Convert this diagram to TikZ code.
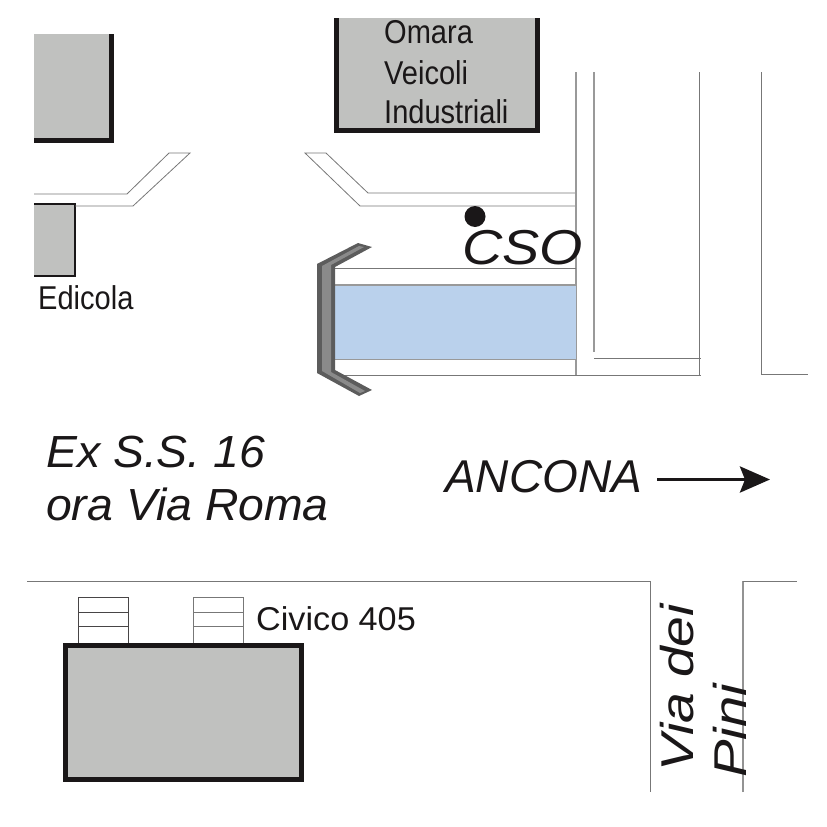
\documentclass[tikz,border=0pt]{standalone}
\usepackage{fontspec}
\usetikzlibrary{arrows.meta}
\setmainfont{Liberation Sans}
\definecolor{bldg}{HTML}{C0C1BF}
\definecolor{ink}{HTML}{1A1718}
\definecolor{roadline}{HTML}{777777}
\definecolor{water}{HTML}{BAD1EC}
\definecolor{wall}{HTML}{8A8A8A}
\definecolor{walledge}{HTML}{5C5C5C}
\tikzset{
  road/.style={draw=roadline,line width=1pt},
  heavy/.style={draw=ink,line width=5pt},
  blockfill/.style={fill=bldg},
  label/.style={inner sep=0pt,text=ink,anchor=base west},
  small/.style={label,font=\fontsize{33}{33}\selectfont,xscale=.88},
  big/.style={label,font=\fontsize{45}{45}\selectfont\itshape,xscale=1.03},
  side/.style={label,font=\fontsize{46}{46}\selectfont\itshape,rotate=90,xscale=1.2},
}
\begin{document}
\begin{tikzpicture}[x=1pt,y=-1pt]
\useasboundingbox (0,0) rectangle (827,827);
% top-left block
\fill[blockfill] (34,34) rectangle (112,141);
\draw[heavy,line cap=butt] (34,140.5) -- (111.5,140.5) -- (111.5,34);
% Omara building
\fill[blockfill] (336,18) rectangle (538,131);
\draw[heavy] (336,18) -- (336,130.5) -- (537.5,130.5) -- (537.5,18);
% Edicola
\fill[blockfill] (34,204) rectangle (75,276);
\draw[draw=ink,line width=2pt] (34,204) -- (74.5,204) -- (74.5,275.5) -- (34,275.5);
% streets
\draw[road,line width=.8pt] (34,194) -- (127,194) -- (169,153) -- (190,153) -- (133,206) -- (75,206);
\draw[road,line width=.8pt] (576,193) -- (368,193) -- (326,153) -- (305,153) -- (360,206) -- (576,206);
\draw[road,line width=1.4pt,draw=gray!80] (576,72) -- (576,375);
\draw[road,line width=1.4pt,draw=gray!80] (594,72) -- (594,352);
\draw[road] (594,358) -- (701,358);
\draw[road] (699,72) -- (699,375);
\draw[road] (576,375) -- (701,375);
\draw[road] (761,72) -- (761,374) -- (808,374);
% water
\fill[water] (334,285) rectangle (576,359);
\draw[road] (334,268) -- (576,268);
\draw[road,line width=1.4pt,draw=gray!80] (334,285) -- (576,285);
\draw[road,line width=.6pt,draw=gray!80] (334,359) -- (576,359);
\draw[road] (334,375) -- (576,375);
% bridge wall
\fill[walledge] (358,243) -- (372,247) -- (335,267) -- (335,370) -- (372,390) -- (359,396) -- (317,373) -- (317,264) -- cycle;
\fill[wall] (359,246) -- (364,247) -- (331,265) -- (331,372) -- (365,391) -- (360,393) -- (322,371) -- (322,266) -- cycle;
% marker
\fill[ink] (475,216.500) circle (10.500);
% text
\node[label,font=\fontsize{49}{49}\selectfont\itshape,xscale=1.137] (cso) at (462,264) {CSO};
\node[small] (omara) at (384,43) {Omara};
\node[small] (veicoli) at (384,84) {Veicoli};
\node[small] (ind) at (384,123) {Industriali};
\node[small] (edicola) at (38,309) {Edicola};
\node[big] (ex) at (46,467) {Ex S.S. 16};
\node[big] (ora) at (46,520) {ora Via Roma};
\node[label,font=\fontsize{46}{46}\selectfont\itshape] (ancona) at (445,492) {ANCONA};
\coordinate (arrowa) at (657,479.500);
\coordinate (arrowb) at (770,479.500);
\draw[draw=ink,line width=3.6pt,-{Stealth[length=30pt,width=26pt,inset=5pt]},fill=ink] (arrowa) -- (arrowb);
% lower roads
\draw[road] (27,581) -- (650,581) -- (650,792);
\draw[road,draw=gray!85,line width=1.2pt] (743,792) -- (743,581);
\draw[road] (743,581) -- (797,581);
% steps
\draw[road,draw=ink!80,line width=.8pt] (78,643) -- (78,597) -- (128,597) -- (128,643);
\draw[road,draw=ink!80,line width=.6pt] (78,612) -- (128,612) (78,626) -- (128,626);
\draw[road,line width=.8pt] (193,643) -- (193,597) -- (243,597) -- (243,643);
\draw[road,line width=.6pt] (193,612) -- (243,612) (193,626) -- (243,626);
% house
\draw[heavy,fill=bldg] (65.500,645.500) rectangle (301,779);
\node[label,font=\fontsize{33}{33}\selectfont,xscale=1.036] (civico) at (256,630) {Civico 405};
\node[side] (via) at (693,772) {Via dei};
\node[side,xscale=1.02] (pini) at (746,778) {Pini};
\end{tikzpicture}
\end{document}
